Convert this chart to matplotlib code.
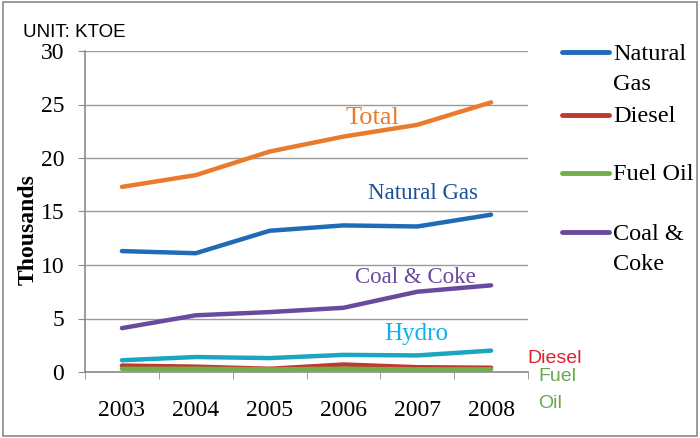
import matplotlib
matplotlib.use("Agg")
import matplotlib.pyplot as plt
from matplotlib.lines import Line2D
from matplotlib.patches import Rectangle

years = ["2003", "2004", "2005", "2006", "2007", "2008"]
total = [17.3, 18.4, 20.6, 22.0, 23.1, 25.2]
natural_gas = [11.3, 11.1, 13.2, 13.7, 13.6, 14.7]
coal_coke = [4.1, 5.3, 5.6, 6.0, 7.5, 8.1]
hydro = [1.1, 1.4, 1.3, 1.6, 1.55, 2.0]
diesel = [0.6, 0.5, 0.3, 0.7, 0.45, 0.4]
fuel_oil = [0.3, 0.3, 0.25, 0.3, 0.25, 0.25]

SERIF = ["Liberation Serif", "DejaVu Serif"]
SANS = ["Liberation Sans", "DejaVu Sans"]

C_TOTAL = "#EA7A2C"
C_GAS = "#1F6BB5"
C_COAL = "#6A4A9E"
C_HYDRO = "#1AA5C0"
C_DIESEL = "#C0392E"
C_FUEL = "#72AE47"
GREY = "#8A8A8A"

W, H = 700, 438
fig = plt.figure(figsize=(W / 100, H / 100), dpi=100)
ax = fig.add_axes([85 / W, 1 - 372 / H, 443 / W, 321 / H])

x = list(range(len(years)))
ax.plot(x, fuel_oil, color=C_FUEL, lw=3.2, solid_capstyle="round")
ax.plot(x, diesel, color=C_DIESEL, lw=3.2, solid_capstyle="round", zorder=1.9)
ax.plot(x, hydro, color=C_HYDRO, lw=3.2, solid_capstyle="round")
ax.plot(x, coal_coke, color=C_COAL, lw=3.2, solid_capstyle="round")
ax.plot(x, natural_gas, color=C_GAS, lw=3.2, solid_capstyle="round")
ax.plot(x, total, color=C_TOTAL, lw=3.2, solid_capstyle="round")

ax.set_xlim(-0.5, len(years) - 0.5)
ax.set_ylim(0, 30)
ax.set_yticks(range(0, 31, 5))
ax.yaxis.grid(True, color="#9A9A9A", lw=1)
ax.set_axisbelow(True)
ax.set_xticks(x)
ax.set_xticklabels(years, family=SERIF, fontsize=17)
ax.set_xticks([i - 0.5 for i in range(len(years) + 1)], minor=True)
ax.tick_params(axis="x", which="major", length=0, pad=20)
ax.tick_params(axis="x", which="minor", length=5, color=GREY, direction="out")
ax.tick_params(axis="y", length=5, color=GREY, pad=10)
for lab in ax.get_yticklabels():
    lab.set_family(SERIF)
    lab.set_fontsize(17)
for s in ["top", "right"]:
    ax.spines[s].set_visible(False)
for s in ["left", "bottom"]:
    ax.spines[s].set_color(GREY)
    ax.spines[s].set_linewidth(1.2)

ax.set_ylabel("Thousands", family=SERIF, fontsize=17, fontweight="bold")
ax.yaxis.set_label_coords(-0.105, 0.445)

# inline series labels
ax.text(3.4, 23.2, "Total", color=C_TOTAL, family=SERIF, fontsize=19, ha="center")
ax.text(4.08, 16.2, "Natural Gas", color="#1F4F9C", family=SERIF, fontsize=16.5, ha="center")
ax.text(3.98, 8.3, "Coal & Coke", color=C_COAL, family=SERIF, fontsize=16.5, ha="center")
ax.text(3.98, 3.0, "Hydro", color="#10B0E8", family=SERIF, fontsize=18, ha="center")
fig.text(527 / W, 1 - 363 / H, "Diesel", color="#E0202B", family=SANS, fontsize=14, va="baseline")
fig.text(538 / W, 1 - 381 / H, "Fuel", color="#6AA84F", family=SANS, fontsize=14, va="baseline")
fig.text(538 / W, 1 - 408 / H, "Oil", color="#6AA84F", family=SANS, fontsize=14, va="baseline")

fig.text(23 / W, 1 - 37 / H, "UNIT: KTOE", family=SANS, fontsize=13.5, va="baseline")

# legend
legend_items = [("Natural\nGas", C_GAS, 52), ("Diesel", C_DIESEL, 115),
                ("Fuel Oil", C_FUEL, 173), ("Coal &\nCoke", C_COAL, 232)]
for label, color, ypix in legend_items:
    yf = 1 - ypix / H
    fig.add_artist(Line2D([562 / W, 609 / W], [yf, yf], color=color, lw=3.5,
                          solid_capstyle="round", transform=fig.transFigure))
    for i, part in enumerate(label.split("\n")):
        fig.text(613 / W, 1 - (ypix + 2 + 31 * i) / H, part, family=SERIF,
                 fontsize=17.5, va="center")

fig.add_artist(Rectangle((0.004, 0.005), 0.992, 0.99, transform=fig.transFigure,
                         fill=False, edgecolor=GREY, lw=1.2))

fig.savefig("out.png", dpi=100)
